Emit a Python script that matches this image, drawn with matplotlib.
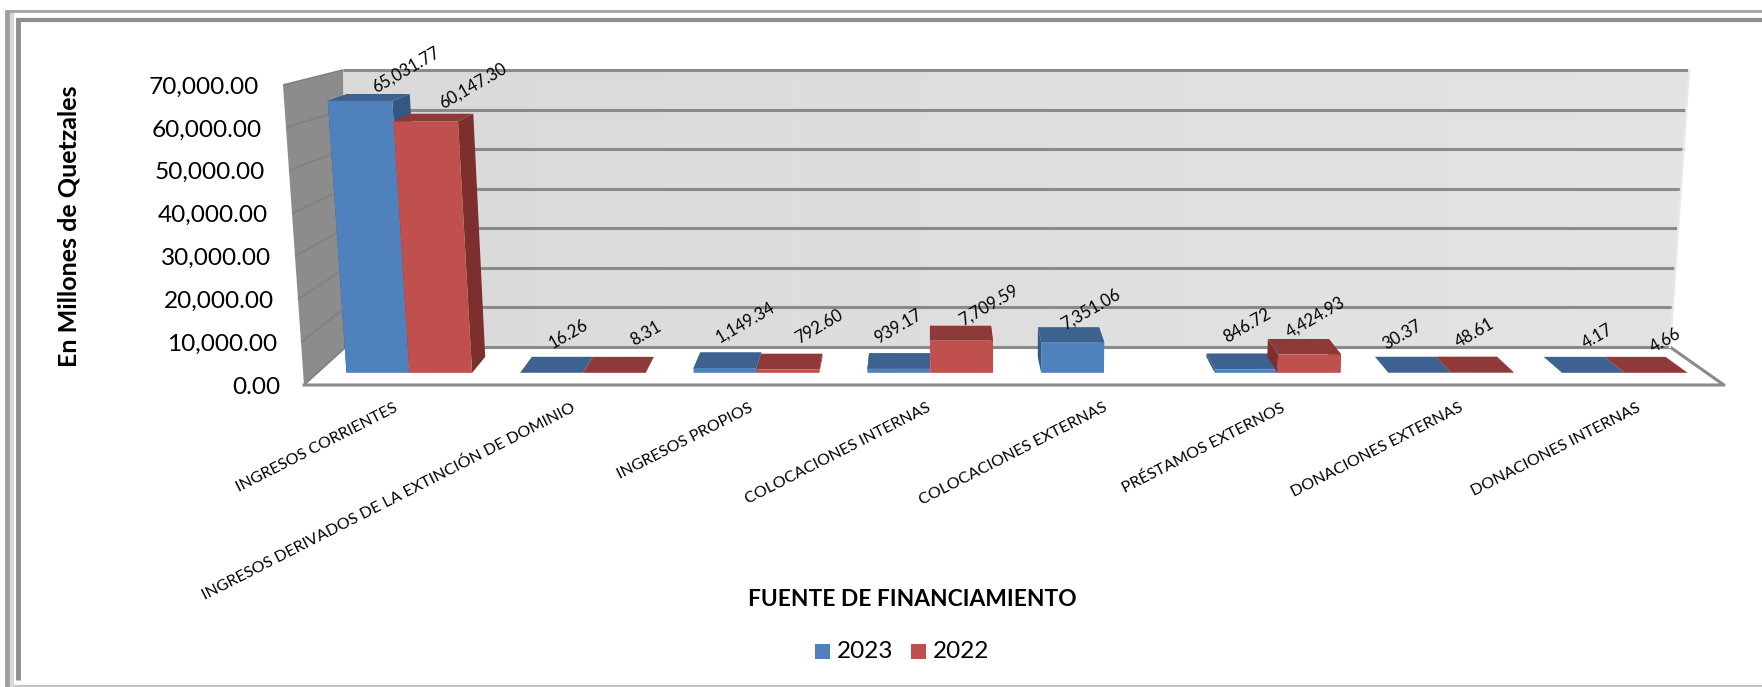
import numpy as np
import matplotlib
matplotlib.use('Agg')
import matplotlib.pyplot as plt
from matplotlib.patches import Polygon, Rectangle

plt.rcParams['font.family'] = ['Lato', 'DejaVu Sans']

categories = ['INGRESOS CORRIENTES',
              'INGRESOS DERIVADOS DE LA EXTINCIÓN DE DOMINIO',
              'INGRESOS PROPIOS',
              'COLOCACIONES INTERNAS',
              'COLOCACIONES EXTERNAS',
              'PRÉSTAMOS EXTERNOS',
              'DONACIONES EXTERNAS',
              'DONACIONES INTERNAS']
values_2023 = [65031.77, 16.26, 1149.34, 939.17, 7351.06, 846.72, 30.37, 4.17]
values_2022 = [60147.30, 8.31, 792.60, 7709.59, None, 4424.93, 48.61, 4.66]
y_ticks = [0, 10000, 20000, 30000, 40000, 50000, 60000, 70000]
y_max = 70000

BLUE = ['#4F81BD', '#3D628F', '#355781']  # front, top, side
RED = ['#C0504D', '#8F3A38', '#7C2F2D']

# label nudges in pixels, from the back centre of each bar's top
offsets_2023 = [(27, -24), (6, -23), (14, -30), (-1, -26), (22, -18), (10, -28), (-3, -22), (23, -20)]
offsets_2022 = [(31, -28), (23, -23), (27, -27), (28, -20), None, (17, -22), (8, -24), (30, -16)]


def project(u, v, w):
    """u: 0-1 along categories, v: 0-1 of the value axis, w: 0 front, 1 back wall"""
    y_front = 385 - 300 * v
    y_back = 347 - 277 * v
    y = y_front + (y_back - y_front) * w
    # left edge leans hard until close to the back wall
    left = 304 + 42 * w - v * (21 * (1 - w ** 6) + 3 * w ** 6)
    right = (1724 + 21 * v) * (1 - w) + (1670 + 19 * v) * w
    return left + (right - left) * u, y


def quad(ax, pts, color, zorder=3):
    return ax.add_patch(Polygon([project(*p) for p in pts], closed=True, facecolor=color,
                                edgecolor='none', zorder=zorder))


def draw_bar(ax, u0, u1, value, colors, zorder):
    v = value / y_max
    w0, w1 = 0.32, 0.74
    # side first, then top, then front
    quad(ax, [(u1, 0, w0), (u1, 0, w1), (u1, v, w1), (u1, v, w0)], colors[2], zorder)
    quad(ax, [(u0, 0, w0), (u0, 0, w1), (u0, v, w1), (u0, v, w0)], colors[2], zorder)
    quad(ax, [(u0, v, w0), (u1, v, w0), (u1, v, w1), (u0, v, w1)], colors[1], zorder)
    quad(ax, [(u0, 0, w0), (u1, 0, w0), (u1, v, w0), (u0, v, w0)], colors[0], zorder)


fig = plt.figure(figsize=(17.62, 6.87), dpi=100)
ax = fig.add_axes([0, 0, 1, 1])
ax.set_xlim(0, 1762)
ax.set_ylim(687, 0)
ax.axis('off')

# frame, open on the right
ax.plot([7, 7], [10, 687], color='#9E9E9E', lw=3.5, zorder=1, solid_capstyle='butt')
ax.plot([12, 12], [10, 687], color='#D8D8D8', lw=3, zorder=1, solid_capstyle='butt')
ax.plot([18, 18], [20, 680], color='#8E8E8E', lw=3.5, zorder=1, solid_capstyle='butt')
ax.plot([5, 1762], [10.5, 10.5], color='#A4A4A4', lw=2, zorder=1, solid_capstyle='butt')
ax.plot([16, 1762], [20, 20], color='#8E8E8E', lw=3, zorder=1, solid_capstyle='butt')
ax.plot([14, 1762], [686, 686], color='#C4C4C4', lw=1.5, zorder=1, solid_capstyle='butt')

# walls and floor
wall = quad(ax, [(0, 0, 1), (1, 0, 1), (1, 1, 1), (0, 1, 1)], 'none', 1)
shade = np.linspace(0.85, 0.89, 64).reshape(1, -1)
img = ax.imshow(shade, extent=(340, 1695, 352, 65), cmap='gray', vmin=0, vmax=1,
                aspect='auto', zorder=1, interpolation='bilinear')
img.set_clip_path(wall)
ax.set_xlim(0, 1762)
ax.set_ylim(687, 0)
quad(ax, [(0, 0, 0), (0, 0, 1), (0, 1, 1), (0, 1, 0)], '#8C8C8C', 1)
quad(ax, [(0, 0, 0), (1, 0, 0), (1, 0, 1), (0, 0, 1)], 'white', 1)

for t in y_ticks:
    v = t / y_max
    back = [project(0, v, 1), project(1, v, 1)]
    side = [project(0, v, 0), project(0, v, 1)]
    ax.plot(*zip(*back), color='#8A8A8A', lw=2.2, zorder=2, solid_capstyle='butt')
    ax.plot(*zip(*side), color='#808080', lw=1.2, zorder=2, solid_capstyle='butt')
    x, y = project(0, v, 0)
    ax.text(x - 24, y + 2, '{:,.2f}'.format(t), ha='right', va='center', fontsize=17.6, color='black', zorder=5)

floor_line = [project(0, 0, 0), project(1, 0, 0), project(1, 0, 1)]
ax.plot(*zip(*floor_line), color='#8A8A8A', lw=2.2, zorder=2)
ax.plot(*zip(*[project(1, 1, 1), project(1, 0, 1)]), color='#E8E8E8', lw=1.5, zorder=2)

# bars, left to right so the red one sits over the blue one
n = len(categories)
step = 1 / n
bar_w = 0.0452
start = 0.0209
for i in range(n):
    u_a = i * step + start
    u_b = u_a + bar_w
    u_c = u_b + bar_w
    if values_2023[i] is not None:
        draw_bar(ax, u_a, u_b, values_2023[i], BLUE, 3)
        x, y = project((u_a + u_b) / 2, values_2023[i] / y_max, 0.74)
        dx, dy = offsets_2023[i]
        ax.text(x + dx, y + dy, '{:,.2f}'.format(values_2023[i]), rotation=30, ha='center', va='center',
                rotation_mode='anchor', fontsize=12, color='black', zorder=6)
    if values_2022[i] is not None:
        draw_bar(ax, u_b, u_c, values_2022[i], RED, 4)
        x, y = project((u_b + u_c) / 2, values_2022[i] / y_max, 0.74)
        dx, dy = offsets_2022[i]
        ax.text(x + dx, y + dy, '{:,.2f}'.format(values_2022[i]), rotation=30, ha='center', va='center',
                rotation_mode='anchor', fontsize=12, color='black', zorder=6)

    x, y = project((i + 0.5) * step, 0, 0)
    ax.text(x + 4, y + 22, categories[i], rotation=27, ha='right', va='center',
            rotation_mode='anchor', fontsize=11.5, color='black', zorder=5)

ax.text(69, 226, 'En Millones de Quetzales', rotation=90, ha='center', va='center',
        fontsize=18, fontweight='bold', color='black')
ax.text(912, 599, 'FUENTE DE FINANCIAMIENTO', ha='center', va='center',
        fontsize=16.4, fontweight='bold', color='black')

# legend
ax.add_patch(Rectangle((815, 644), 15, 15, facecolor=BLUE[0], edgecolor='none'))
ax.text(837, 651, '2023', ha='left', va='center', fontsize=17.5, color='black')
ax.add_patch(Rectangle((911, 644), 15, 15, facecolor=RED[0], edgecolor='none'))
ax.text(933, 651, '2022', ha='left', va='center', fontsize=17.5, color='black')

fig.savefig('out.png', dpi=100, facecolor='white')
